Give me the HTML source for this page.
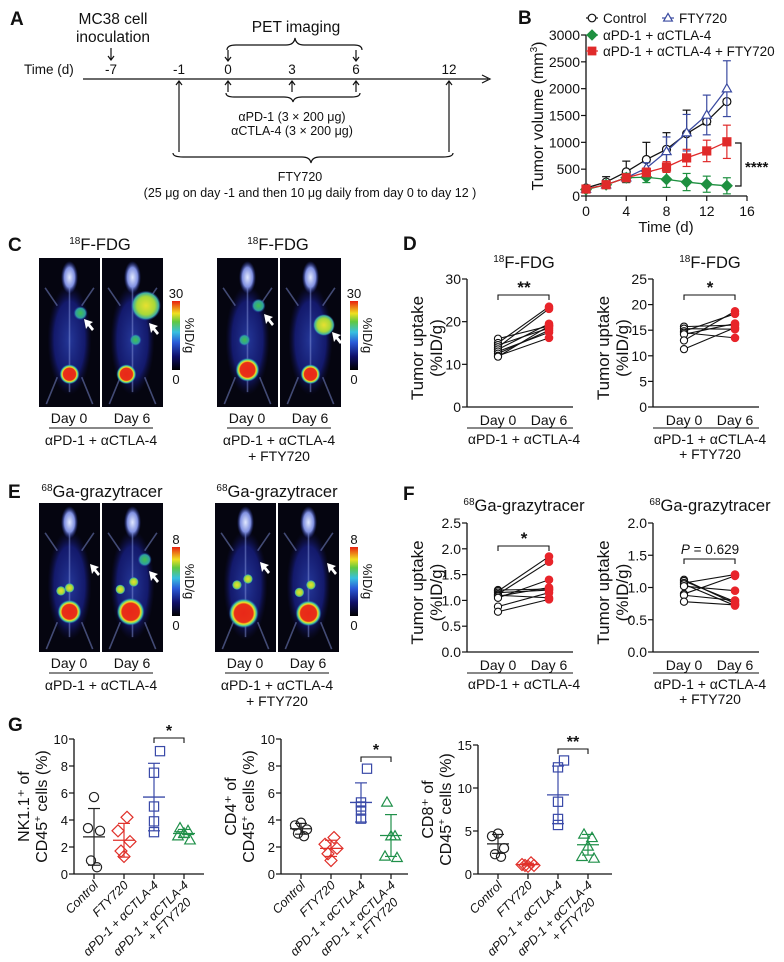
<!DOCTYPE html>
<html><head><meta charset="utf-8"><style>
html,body{margin:0;padding:0;background:#fff;}
svg{display:block;font-family:"Liberation Sans",Arial,sans-serif;}
</style></head><body>
<svg id="fig" width="784" height="962" viewBox="0 0 784 962" xmlns="http://www.w3.org/2000/svg">
<defs>
<linearGradient id="cbar" x1="0" y1="1" x2="0" y2="0">
<stop offset="0" stop-color="#000"/><stop offset="0.2" stop-color="#10106a"/><stop offset="0.4" stop-color="#2a5ad8"/><stop offset="0.55" stop-color="#38c0e0"/><stop offset="0.7" stop-color="#60c840"/><stop offset="0.82" stop-color="#f0e020"/><stop offset="1" stop-color="#e82010"/>
</linearGradient>
<radialGradient id="body" cx="0.5" cy="0.5" r="0.5"><stop offset="0" stop-color="#2a40b0" stop-opacity="0.85"/><stop offset="0.7" stop-color="#18208a" stop-opacity="0.75"/><stop offset="1" stop-color="#101050" stop-opacity="0"/></radialGradient>
<radialGradient id="hot" cx="0.5" cy="0.5" r="0.5"><stop offset="0" stop-color="#e82818"/><stop offset="0.62" stop-color="#e83018"/><stop offset="0.72" stop-color="#f0e020"/><stop offset="0.85" stop-color="#40c8a0"/><stop offset="1" stop-color="#2040c0" stop-opacity="0"/></radialGradient>
<radialGradient id="tumY" cx="0.5" cy="0.5" r="0.5"><stop offset="0" stop-color="#e8e030"/><stop offset="0.6" stop-color="#a8d838"/><stop offset="0.85" stop-color="#40b0a0"/><stop offset="1" stop-color="#2040c0" stop-opacity="0"/></radialGradient>
<radialGradient id="tumG" cx="0.5" cy="0.5" r="0.5"><stop offset="0" stop-color="#40c050"/><stop offset="0.7" stop-color="#30a0a0"/><stop offset="1" stop-color="#2040c0" stop-opacity="0"/></radialGradient>
<radialGradient id="head" cx="0.5" cy="0.5" r="0.5"><stop offset="0" stop-color="#e0e8ff"/><stop offset="0.6" stop-color="#8090e0"/><stop offset="1" stop-color="#2030a0" stop-opacity="0"/></radialGradient>
</defs>

<!-- Panel A -->
<g fill="#111" stroke="none">
<text x="10" y="25" font-size="19" font-weight="bold">A</text>
<text x="113" y="24" font-size="15.5" text-anchor="middle">MC38 cell</text>
<text x="113" y="42" font-size="15.5" text-anchor="middle">inoculation</text>
<text x="296" y="32" font-size="15.5" text-anchor="middle">PET imaging</text>
<text x="24" y="74" font-size="13.5">Time (d)</text>
<g font-size="13.5" text-anchor="middle">
<text x="111" y="74">-7</text><text x="179" y="74">-1</text><text x="228" y="74">0</text><text x="292" y="74">3</text><text x="356" y="74">6</text><text x="449" y="74">12</text>
</g>
<g stroke="#111" stroke-width="1.2" fill="none">
<line x1="83" y1="79" x2="488" y2="79"/>
<path d="M482,75 L490,79 L482,83"/>
<line x1="111" y1="48" x2="111" y2="60"/><path d="M108,56 L111,60 L114,56"/>
<line x1="228" y1="50" x2="228" y2="61"/><path d="M225,57 L228,61 L231,57"/>
<line x1="356" y1="50" x2="356" y2="61"/><path d="M353,57 L356,61 L359,57"/>
<path d="M227,50 Q227,45 236,45 L286,45 Q294,45 295,38 Q296,45 304,45 L354,45 Q362,45 362,50"/>
<line x1="228" y1="92" x2="228" y2="81"/><path d="M225,85 L228,81 L231,85"/>
<line x1="292" y1="92" x2="292" y2="81"/><path d="M289,85 L292,81 L295,85"/>
<line x1="356" y1="92" x2="356" y2="81"/><path d="M353,85 L356,81 L359,85"/>
<path d="M226,93 Q226,97 234,97 L284,97 Q292,97 293,102 Q294,97 302,97 L352,97 Q360,97 360,93"/>
<line x1="179" y1="152" x2="179" y2="81"/><path d="M176,85 L179,81 L182,85"/>
<line x1="449" y1="152" x2="449" y2="81"/><path d="M446,85 L449,81 L452,85"/>
<path d="M173,153 Q173,157 183,157 L302,157 Q310,157 311,163 Q312,157 320,157 L443,157 Q453,157 453,153"/>
</g>
<text x="292" y="121" font-size="12.5" text-anchor="middle">αPD-1 (3 × 200 μg)</text>
<text x="292" y="135" font-size="12.5" text-anchor="middle">αCTLA-4 (3 × 200 μg)</text>
<text x="300" y="181" font-size="12.5" text-anchor="middle">FTY720</text>
<text x="310" y="197" font-size="12.5" text-anchor="middle">(25 μg on day -1 and then 10 μg daily from day 0 to day 12 )</text>
</g>

<g id="root"></g>
</svg>
<script>
// ---------- DATA ----------
// Panel B
const bDays = [0, 2, 4, 6, 8, 10, 12, 14];
const bControl = [150, 260, 450, 680, 870, 1160, 1390, 1760];
const bControlErr = [30, 100, 200, 320, 310, 440, 60, 40];
const bFty = [130, 210, 340, 520, 830, 1180, 1510, 2000];
const bFtyErr = [30, 60, 80, 100, 270, 340, 370, 520];
const bCombo = [120, 210, 340, 350, 310, 260, 220, 190];
const bComboErr = [30, 60, 80, 100, 150, 160, 150, 150];
const bTriple = [130, 210, 340, 440, 540, 710, 840, 1010];
const bTripleErr = [30, 50, 60, 80, 100, 160, 200, 310];
const bYTicks = [0, 500, 1000, 1500, 2000, 2500, 3000];
const bXTicks = [0, 4, 8, 12, 16];
// Panel D (FDG)
const dLeftDay0 = [16.0, 15.0, 14.5, 14.0, 13.5, 13.0, 12.5, 12.0, 11.8];
const dLeftDay6 = [19.0, 23.5, 18.5, 23.0, 19.5, 17.5, 18.0, 16.2, 19.0];
const dLeftTicks = [0, 10, 20, 30];
const dRightDay0 = [15.7, 15.3, 14.8, 14.5, 14.2, 13.0, 11.3];
const dRightDay6 = [16.0, 15.2, 18.2, 13.5, 16.3, 18.7, 15.5];
const dRightTicks = [0, 5, 10, 15, 20, 25];
// Panel F (grazytracer)
const fLeftDay0 = [1.2, 1.18, 1.15, 1.12, 1.1, 1.08, 1.05, 0.88, 0.78];
const fLeftDay6 = [1.22, 1.85, 1.2, 1.75, 1.05, 1.25, 1.4, 1.15, 1.02];
const fLeftTicks = [0, 0.5, 1.0, 1.5, 2.0, 2.5];
const fRightDay0 = [1.12, 1.1, 1.07, 1.05, 1.02, 0.9, 0.88, 0.78];
const fRightDay6 = [0.75, 0.78, 1.2, 0.72, 0.95, 1.18, 0.8, 0.73];
const fRightTicks = [0, 0.5, 1.0, 1.5, 2.0];
// Panel G
const gGroups = ["Control", "FTY720", "αPD-1 + αCTLA-4", "αPD-1 + αCTLA-4"];
const gNK = [[5.7, 3.4, 3.2, 1.0, 0.5], [4.2, 3.2, 2.4, 1.7, 1.3], [9.1, 7.5, 5.0, 3.9, 3.1], [3.4, 3.2, 3.0, 2.8, 2.5]];
const gNKMean = [2.75, 2.5, 5.7, 3.0];
const gNKSd = [2.1, 1.25, 2.5, 0.3];
const gCD4 = [[3.8, 3.6, 3.3, 3.0, 2.8], [2.7, 2.2, 1.9, 1.5, 1.0], [7.8, 5.3, 5.0, 4.7, 4.1], [5.3, 2.8, 2.8, 1.3, 1.2]];
const gCD4Mean = [3.35, 1.9, 5.3, 2.85];
const gCD4Sd = [0.4, 0.6, 1.45, 1.55];
const gCD8 = [[4.7, 4.4, 3.0, 2.3, 2.0], [1.3, 1.1, 1.0, 1.0, 0.9], [13.2, 12.4, 8.4, 6.4, 5.7], [4.6, 4.2, 3.2, 2.0, 1.8]];
const gCD8Mean = [3.5, 1.1, 9.2, 3.4];
const gCD8Sd = [1.1, 0.15, 3.35, 1.2];
const gTicks10 = [0, 2, 4, 6, 8, 10];
const gTicks15 = [0, 5, 10, 15];

// ---------- HELPERS ----------
const NS = "http://www.w3.org/2000/svg";
const root = document.getElementById("root");
function mk(tag, attrs, name, parent) {
  const el = document.createElementNS(NS, tag);
  for (const k in attrs) el.setAttribute(k, attrs[k]);
  
  
  (parent || root).appendChild(el);
  return el;
}
function txt(x, y, s, size, name, opts, parent) {
  const a = Object.assign({x: x, y: y, "font-size": size, fill: "#111"}, opts || {});
  const t = mk("text", a, name, parent);
  t.textContent = s;
  return t;
}
function ln(x1, y1, x2, y2, name, col, w, parent) {
  return mk("line", {x1: x1, y1: y1, x2: x2, y2: y2, stroke: col || "#111", "stroke-width": w || 1.2}, name, parent);
}
function linScale(d0, d1, r0, r1) { return v => r0 + (v - d0) * (r1 - r0) / (d1 - d0); }
function marker(shape, x, y, s, col, fill, name, parent) {
  if (shape === "circle") return mk("circle", {cx: x, cy: y, r: s, fill: fill, stroke: col, "stroke-width": 1.2}, name, parent);
  if (shape === "square") return mk("rect", {x: x - s, y: y - s, width: 2 * s, height: 2 * s, fill: fill, stroke: col, "stroke-width": 1.2}, name, parent);
  if (shape === "diamond") return mk("polygon", {points: `${x},${y - s * 1.3} ${x + s * 1.3},${y} ${x},${y + s * 1.3} ${x - s * 1.3},${y}`, fill: fill, stroke: col, "stroke-width": 1.2}, name, parent);
  return mk("polygon", {points: `${x},${y - s * 1.2} ${x + s * 1.15},${y + s * 0.8} ${x - s * 1.15},${y + s * 0.8}`, fill: fill, stroke: col, "stroke-width": 1.2}, name, parent);
}

// ---------- PANEL B ----------
(function () {
  const g = mk("g", {}, "panel-b-tumor-growth");
  const x = linScale(0, 16, 586, 747), y = linScale(0, 3000, 196, 35);
  txt(518, 24, "B", 19, "panel-b-label", {"font-weight": "bold"}, g);
  ln(586, 35, 586, 196, "b-y-axis", null, 1.3, g);
  ln(586, 196, 747, 196, "b-x-axis", null, 1.3, g);
  bYTicks.forEach(v => {
    ln(581, y(v), 586, y(v), "b-y-tick", null, 1.2, g);
    txt(580, y(v) + 5, String(v), 14, "b-y-tick-label", {"text-anchor": "end"}, g);
  });
  bXTicks.forEach(v => {
    ln(x(v), 196, x(v), 201, "b-x-tick", null, 1.2, g);
    txt(x(v), 216, String(v), 14, "b-x-tick-label", {"text-anchor": "middle"}, g);
  });
  txt(666, 232, "Time (d)", 15, "b-x-axis-title", {"text-anchor": "middle"}, g);
  const yt = txt(0, 0, "Tumor volume (mm", 16, "b-y-axis-title", {"text-anchor": "middle", transform: "translate(543,116) rotate(-90)"}, g);
  const sup = document.createElementNS(NS, "tspan"); sup.setAttribute("font-size", "10"); sup.setAttribute("dy", "-6"); sup.textContent = "3"; yt.appendChild(sup);
  const cl = document.createElementNS(NS, "tspan"); cl.setAttribute("dy", "6"); cl.textContent = ")"; yt.appendChild(cl);
  const series = [
    [bControl, bControlErr, "#111", "circle", "#fff", "control"],
    [bFty, bFtyErr, "#3a4aa0", "triangle", "#fff", "fty720"],
    [bCombo, bComboErr, "#1e9040", "diamond", "#1e9040", "apd1-actla4"],
    [bTriple, bTripleErr, "#e02a2a", "square", "#e02a2a", "apd1-actla4-fty720"]
  ];
  series.forEach(s => {
    const [vals, errs, col, shp, fill, nm] = s;
    vals.forEach((v, i) => {
      ln(x(bDays[i]), y(v - errs[i]), x(bDays[i]), y(v + errs[i]), "b-errorbar-" + nm, col, 1.2, g);
      ln(x(bDays[i]) - 4, y(v + errs[i]), x(bDays[i]) + 4, y(v + errs[i]), "b-errorcap-" + nm, col, 1.2, g);
      ln(x(bDays[i]) - 4, y(v - errs[i]), x(bDays[i]) + 4, y(v - errs[i]), "b-errorcap-" + nm, col, 1.2, g);
    });
    mk("polyline", {points: vals.map((v, i) => x(bDays[i]) + "," + y(v)).join(" "), fill: "none", stroke: col, "stroke-width": 1.3}, "b-line-" + nm, g);
    vals.forEach((v, i) => marker(shp, x(bDays[i]), y(v), 4, col, fill, "b-point-" + nm, g));
  });
  const leg = [[592, 18, "circle", "#111", "#fff", "Control"], [668, 18, "triangle", "#3a4aa0", "#fff", "FTY720"], [592, 35, "diamond", "#1e9040", "#1e9040", "αPD-1 + αCTLA-4"], [592, 51, "square", "#e02a2a", "#e02a2a", "αPD-1 + αCTLA-4 + FTY720"]];
  leg.forEach(l => {
    const e = mk("g", {}, "legend-entry", g);
    ln(l[0] - 6, l[1], l[0] + 6, l[1], "legend-line", l[3], 1.2, e);
    marker(l[2], l[0], l[1], 3.8, l[3], l[4], "legend-marker", e);
    txt(l[0] + 11, l[1] + 5, l[5], 13.5, "legend-label", {}, e);
  });
  mk("path", {d: "M735,143 L741,143 L741,186 L735,186", fill: "none", stroke: "#111", "stroke-width": 1.2}, "b-significance-bracket", g);
  txt(745, 172, "****", 15, "b-significance-stars", {"font-weight": "bold"}, g);
})();

// ---------- PAIRED PLOTS D, F ----------
function paired(opt) {
  const g = mk("g", {}, opt.name);
  const y = linScale(0, opt.max, opt.y0, opt.yTop);
  const ax = opt.ax, x0 = ax + 31, x6 = ax + 82, end = ax + 106;
  ln(ax, opt.yTop, ax, opt.y0, opt.name + "-y-axis", null, 1.3, g);
  ln(ax, opt.y0, end, opt.y0, opt.name + "-x-axis", null, 1.3, g);
  opt.ticks.forEach(v => {
    ln(ax - 5, y(v), ax, y(v), opt.name + "-y-tick", null, 1.2, g);
    txt(ax - 6, y(v) + 5, opt.fmt(v), 14, opt.name + "-y-tick-label", {"text-anchor": "end"}, g);
  });
  const tt = txt(ax + 57, opt.titleY, "", 16.5, opt.name + "-title", {"text-anchor": "middle"}, g);
  const sp = document.createElementNS(NS, "tspan"); sp.setAttribute("font-size", "10"); sp.setAttribute("dy", "-6"); sp.textContent = opt.iso; tt.appendChild(sp);
  const sp2 = document.createElementNS(NS, "tspan"); sp2.setAttribute("dy", "6"); sp2.textContent = opt.tracer; tt.appendChild(sp2);
  txt(0, 0, "Tumor uptake", 17, opt.name + "-y-title", {"text-anchor": "middle", transform: `translate(${ax - 44},${(opt.y0 + opt.yTop) / 2 + 5}) rotate(-90)`}, g);
  txt(0, 0, "(%ID/g)", 17, opt.name + "-y-title-unit", {"text-anchor": "middle", transform: `translate(${ax - 25},${(opt.y0 + opt.yTop) / 2 + 5}) rotate(-90)`}, g);
  opt.d0.forEach((v, i) => ln(x0, y(v), x6, y(opt.d6[i]), opt.name + "-pair-line", "#111", 1.1, g));
  opt.d0.forEach(v => mk("circle", {cx: x0, cy: y(v), r: 3.6, fill: "#fff", stroke: "#111", "stroke-width": 1.1}, opt.name + "-day0-point", g));
  opt.d6.forEach(v => mk("circle", {cx: x6, cy: y(v), r: 3.8, fill: "#e8242a", stroke: "#e8242a", "stroke-width": 1}, opt.name + "-day6-point", g));
  mk("path", {d: `M${x0},${opt.brY + 5} L${x0},${opt.brY} L${x6},${opt.brY} L${x6},${opt.brY + 5}`, fill: "none", stroke: "#111", "stroke-width": 1.1}, opt.name + "-bracket", g);
  if (opt.p) {
    const pt = txt(ax + 57, opt.brY - 5, "", 13.5, opt.name + "-p-value", {"text-anchor": "middle"}, g);
    const i1 = document.createElementNS(NS, "tspan"); i1.setAttribute("font-style", "italic"); i1.textContent = "P"; pt.appendChild(i1);
    const i2 = document.createElementNS(NS, "tspan"); i2.textContent = " = 0.629"; pt.appendChild(i2);
  } else txt(ax + 57, opt.brY - 2, opt.stars, 17, opt.name + "-stars", {"text-anchor": "middle", "font-weight": "bold"}, g);
  txt(x0, opt.y0 + 18, "Day 0", 14, opt.name + "-day0-label", {"text-anchor": "middle"}, g);
  txt(x6, opt.y0 + 18, "Day 6", 14, opt.name + "-day6-label", {"text-anchor": "middle"}, g);
  ln(ax, opt.y0 + 21, end, opt.y0 + 21, opt.name + "-group-underline", null, 1.1, g);
  txt(ax + 57, opt.y0 + 37, "αPD-1 + αCTLA-4", 14, opt.name + "-group-label", {"text-anchor": "middle"}, g);
  if (opt.fty) txt(ax + 57, opt.y0 + 52, "+ FTY720", 14, opt.name + "-group-label-2", {"text-anchor": "middle"}, g);
}
txt(403, 250, "D", 19, "panel-d-label", {"font-weight": "bold"});
paired({name: "d-left", ax: 467, y0: 407, yTop: 279, max: 30, ticks: dLeftTicks, fmt: v => String(v), d0: dLeftDay0, d6: dLeftDay6, iso: "18", tracer: "F-FDG", titleY: 268, brY: 295, stars: "**"});
paired({name: "d-right", ax: 653, y0: 407, yTop: 279, max: 25, ticks: dRightTicks, fmt: v => String(v), d0: dRightDay0, d6: dRightDay6, iso: "18", tracer: "F-FDG", titleY: 268, brY: 295, stars: "*", fty: true});
txt(403, 500, "F", 19, "panel-f-label", {"font-weight": "bold"});
paired({name: "f-left", ax: 467, y0: 652, yTop: 523, max: 2.5, ticks: fLeftTicks, fmt: v => v.toFixed(1), d0: fLeftDay0, d6: fLeftDay6, iso: "68", tracer: "Ga-grazytracer", titleY: 511, brY: 546, stars: "*"});
paired({name: "f-right", ax: 653, y0: 652, yTop: 523, max: 2.0, ticks: fRightTicks, fmt: v => v.toFixed(1), d0: fRightDay0, d6: fRightDay6, iso: "68", tracer: "Ga-grazytracer", titleY: 511, brY: 559, p: true, fty: true});

// ---------- PET IMAGES C, E ----------
function mouse(px, py, w, h, spec, name, parent) {
  const g = mk("g", {}, name, parent);
  mk("rect", {x: px, y: py, width: w, height: h, fill: "#050510"}, name + "-background", g);
  const cx = px + w / 2;
  mk("ellipse", {cx: cx, cy: py + h * 0.55, rx: w * 0.36, ry: h * 0.37, fill: "url(#body)"}, name + "-body", g);
  mk("ellipse", {cx: cx, cy: py + h * 0.13, rx: w * 0.14, ry: h * 0.11, fill: "url(#head)"}, name + "-head", g);
  const limbs = `M${cx - w * 0.2},${py + h * 0.32} L${px + w * 0.1},${py + h * 0.2} M${cx + w * 0.2},${py + h * 0.32} L${px + w * 0.9},${py + h * 0.2} M${cx - w * 0.2},${py + h * 0.8} L${px + w * 0.12},${py + h * 0.98} M${cx + w * 0.2},${py + h * 0.8} L${px + w * 0.88},${py + h * 0.98} M${cx},${py + h * 0.2} L${cx},${py + h * 0.9}`;
  mk("path", {d: limbs, stroke: "#8090d8", "stroke-width": 1.6, fill: "none", opacity: 0.5}, name + "-skeleton", g);
  spec.forEach(s => mk("circle", {cx: px + s[0] * w, cy: py + s[1] * h, r: s[2], fill: `url(#${s[3]})`}, name + "-uptake-" + s[3], g));
  return g;
}
function arrow(x, y, name) {
  mk("polygon", {points: `${x},${y} ${x + 9},${y + 3} ${x + 6},${y + 5} ${x + 10},${y + 10} ${x + 8},${y + 12} ${x + 4},${y + 7} ${x + 2},${y + 10}`, fill: "#fff"}, name);
}
function colorbar(x, y1, y2, maxLbl, name) {
  const g = mk("g", {}, name);
  mk("rect", {x: x, y: y1, width: 8, height: y2 - y1, fill: "url(#cbar)"}, name + "-gradient", g);
  txt(x + 4, y1 - 3, maxLbl, 13, name + "-max", {"text-anchor": "middle"}, g);
  txt(x + 4, y2 + 14, "0", 13, name + "-min", {"text-anchor": "middle"}, g);
  txt(0, 0, "%ID/g", 13, name + "-unit", {"text-anchor": "middle", transform: `translate(${x + 13},${(y1 + y2) / 2}) rotate(90)`}, g);
}
function petGroup(opt) {
  const g = mk("g", {}, opt.name);
  const t = txt(opt.titleX, opt.titleY, "", 16.5, opt.name + "-title", {"text-anchor": "middle"}, g);
  const s1 = document.createElementNS(NS, "tspan"); s1.setAttribute("font-size", "10"); s1.setAttribute("dy", "-6"); s1.textContent = opt.iso; t.appendChild(s1);
  const s2 = document.createElementNS(NS, "tspan"); s2.setAttribute("dy", "6"); s2.textContent = opt.tracer; t.appendChild(s2);
  mouse(opt.x1, opt.y, 61, opt.h, opt.spec0, opt.name + "-day0-image", g);
  mouse(opt.x2, opt.y, 61, opt.h, opt.spec6, opt.name + "-day6-image", g);
  const ly = opt.y + opt.h + 16;
  txt(opt.x1 + 30, ly, "Day 0", 14, opt.name + "-day0-label", {"text-anchor": "middle"}, g);
  txt(opt.x2 + 30, ly, "Day 6", 14, opt.name + "-day6-label", {"text-anchor": "middle"}, g);
  ln(opt.x1 + 10, ly + 5, opt.x2 + 51, ly + 5, opt.name + "-underline", null, 1.1, g);
  txt((opt.x1 + opt.x2 + 61) / 2, ly + 22, "αPD-1 + αCTLA-4", 14, opt.name + "-group-label", {"text-anchor": "middle"}, g);
  if (opt.fty) txt((opt.x1 + opt.x2 + 61) / 2, ly + 38, "+ FTY720", 14, opt.name + "-group-label-2", {"text-anchor": "middle"}, g);
}
txt(8, 251, "C", 19, "panel-c-label", {"font-weight": "bold"});
petGroup({name: "c-pet-apd1-actla4", titleX: 100, titleY: 250, iso: "18", tracer: "F-FDG", x1: 39, x2: 102, y: 258, h: 149,
  spec0: [[0.5, 0.78, 10, "hot"], [0.68, 0.37, 7, "tumG"]], spec6: [[0.4, 0.78, 10, "hot"], [0.72, 0.32, 15, "tumY"], [0.55, 0.55, 6, "tumG"]]});
arrow(84, 319, "c-tumor-arrow"); arrow(149, 323, "c-tumor-arrow");
petGroup({name: "c-pet-fty720", titleX: 278, titleY: 250, iso: "18", tracer: "F-FDG", x1: 217, x2: 280, y: 258, h: 149, fty: true,
  spec0: [[0.5, 0.75, 12, "hot"], [0.68, 0.32, 7, "tumG"], [0.45, 0.55, 6, "tumG"]], spec6: [[0.5, 0.78, 10, "hot"], [0.72, 0.45, 11, "tumY"]]});
arrow(264, 314, "c-tumor-arrow"); arrow(332, 332, "c-tumor-arrow");
colorbar(172, 301, 370, "30", "c-colorbar-left"); colorbar(350, 301, 370, "30", "c-colorbar-right");

txt(8, 498, "E", 19, "panel-e-label", {"font-weight": "bold"});
petGroup({name: "e-pet-apd1-actla4", titleX: 102, titleY: 497, iso: "68", tracer: "Ga-grazytracer", x1: 39, x2: 102, y: 503, h: 149,
  spec0: [[0.5, 0.73, 12, "hot"], [0.36, 0.59, 5, "tumY"], [0.5, 0.57, 5, "tumY"]], spec6: [[0.47, 0.73, 14, "hot"], [0.3, 0.58, 5, "tumY"], [0.52, 0.53, 5, "tumY"], [0.7, 0.38, 7, "tumG"]]});
arrow(90, 564, "e-tumor-arrow"); arrow(149, 571, "e-tumor-arrow");
petGroup({name: "e-pet-fty720", titleX: 277, titleY: 497, iso: "68", tracer: "Ga-grazytracer", x1: 215, x2: 278, y: 503, h: 149, fty: true,
  spec0: [[0.47, 0.74, 15, "hot"], [0.36, 0.55, 5, "tumY"], [0.54, 0.51, 5, "tumY"]], spec6: [[0.5, 0.74, 13, "hot"], [0.35, 0.6, 5, "tumY"], [0.54, 0.55, 5, "tumY"]]});
arrow(260, 562, "e-tumor-arrow"); arrow(327, 563, "e-tumor-arrow");
colorbar(172, 547, 616, "8", "e-colorbar-left"); colorbar(350, 547, 616, "8", "e-colorbar-right");

// ---------- PANEL G ----------
const gColors = ["#222", "#e0302a", "#3a4aa8", "#20904a"];
const gShapes = ["circle", "diamond", "square", "triangle"];
const gJitter = [[0, -6, 6, -3, 3], [3, -6, 6, -3, 0], [6, 0, 0, 0, 0], [-4, 4, 0, -6, 6]];
function dotPlot(opt) {
  const g = mk("g", {}, opt.name);
  const y = linScale(0, opt.max, 874, opt.yTop);
  const ax = opt.ax;
  ln(ax, opt.yTop, ax, 874, opt.name + "-y-axis", null, 1.3, g);
  ln(ax, 874, opt.end, 874, opt.name + "-x-axis", null, 1.3, g);
  opt.ticks.forEach(v => {
    ln(ax - 5, y(v), ax, y(v), opt.name + "-y-tick", null, 1.2, g);
    txt(ax - 6, y(v) + 5, String(v), 13, opt.name + "-y-tick-label", {"text-anchor": "end"}, g);
  });
  const mid = (opt.yTop + 874) / 2;
  txt(0, 0, opt.l1, 16, opt.name + "-y-title", {"text-anchor": "middle", transform: `translate(${ax - 45},${mid}) rotate(-90)`}, g);
  const t2 = txt(0, 0, "", 16, opt.name + "-y-title-2", {"text-anchor": "middle", transform: `translate(${ax - 27},${mid}) rotate(-90)`}, g);
  const a = document.createElementNS(NS, "tspan"); a.textContent = "CD45"; t2.appendChild(a);
  const b = document.createElementNS(NS, "tspan"); b.setAttribute("font-size", "10"); b.setAttribute("dy", "-6"); b.textContent = "+"; t2.appendChild(b);
  const c = document.createElementNS(NS, "tspan"); c.setAttribute("dy", "6"); c.textContent = " cells (%)"; t2.appendChild(c);
  opt.data.forEach((pts, gi) => {
    const cx = ax + 20 + gi * 30, col = gColors[gi];
    ln(cx, 874, cx, 879, opt.name + "-x-tick", null, 1.2, g);
    const m = opt.mean[gi], sd = opt.sd[gi];
    ln(cx, y(m - sd), cx, y(m + sd), opt.name + "-sd-bar", col, 1.2, g);
    ln(cx - 6, y(m + sd), cx + 6, y(m + sd), opt.name + "-sd-cap", col, 1.2, g);
    ln(cx - 6, y(m - sd), cx + 6, y(m - sd), opt.name + "-sd-cap", col, 1.2, g);
    ln(cx - 11, y(m), cx + 11, y(m), opt.name + "-mean-line", col, 1.3, g);
    pts.forEach((v, i) => marker(gShapes[gi], cx + gJitter[gi][i], y(v), 4.6, col, "none", opt.name + "-point", g));
    const lg = mk("g", {transform: `translate(${cx + 5},${886}) rotate(-45)`}, opt.name + "-x-label-group", g);
    txt(0, 0, gGroups[gi], 12.5, opt.name + "-x-label", {"text-anchor": "end", "font-style": "italic"}, lg);
    if (gi === 3) txt(-10, 14, "+ FTY720", 12.5, opt.name + "-x-label-2", {"text-anchor": "end", "font-style": "italic"}, lg);
  });
  const bx1 = ax + 80, bx2 = ax + 110;
  mk("path", {d: `M${bx1},${opt.brY + 5} L${bx1},${opt.brY} L${bx2},${opt.brY} L${bx2},${opt.brY + 5}`, fill: "none", stroke: "#111", "stroke-width": 1.1}, opt.name + "-bracket", g);
  txt(ax + 95, opt.brY - 2, opt.stars, 16, opt.name + "-stars", {"text-anchor": "middle", "font-weight": "bold"}, g);
}
txt(8, 731, "G", 19, "panel-g-label", {"font-weight": "bold"});
dotPlot({name: "g-nk", ax: 74, end: 204, max: 10, yTop: 739, ticks: gTicks10, data: gNK, mean: gNKMean, sd: gNKSd, l1: "NK1.1⁺ of", brY: 738, stars: "*"});
dotPlot({name: "g-cd4", ax: 281, end: 408, max: 10, yTop: 739, ticks: gTicks10, data: gCD4, mean: gCD4Mean, sd: gCD4Sd, l1: "CD4⁺ of", brY: 757, stars: "*"});
dotPlot({name: "g-cd8", ax: 478, end: 612, max: 15, yTop: 745, ticks: gTicks15, data: gCD8, mean: gCD8Mean, sd: gCD8Sd, l1: "CD8⁺ of", brY: 749, stars: "**"});
</script>
</body></html>
